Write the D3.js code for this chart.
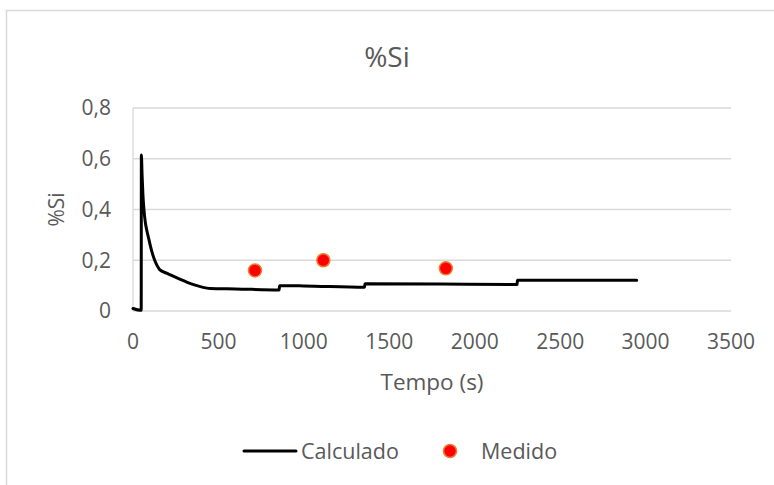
<!DOCTYPE html>
<html>
<head>
<meta charset="utf-8">
<script src="https://cdn.jsdelivr.net/npm/d3@7"></script>
<style>
  html, body { margin: 0; padding: 0; background: #fff; }
  svg { display: block; font-family: "Open Sans", "Liberation Sans", sans-serif; }
</style>
</head>
<body>
<svg id="chart" width="774" height="485"></svg>
<script>
// Calculated %Si over time (s)
const calcTime = [0, 45, 48, 49, 53, 58, 64, 72, 80, 92, 110, 127, 142, 156, 200, 263, 350, 450, 600, 855, 858, 1000, 1355, 1358, 1800, 2248, 2250, 2948];
const calcSi   = [0.010, 0.003, 0.003, 0.615, 0.54, 0.46, 0.40, 0.35, 0.32, 0.285, 0.235, 0.20, 0.178, 0.163, 0.148, 0.129, 0.105, 0.089, 0.087, 0.083, 0.100, 0.099, 0.094, 0.107, 0.106, 0.104, 0.121, 0.121];

// Measured %Si samples
const measTime = [714, 1114, 1831];
const measSi   = [0.160, 0.200, 0.168];

const xTicks = [0, 500, 1000, 1500, 2000, 2500, 3000, 3500];
const yTicks = [0, 0.2, 0.4, 0.6, 0.8];

const textColor = "#595959";
const gridColor = "#D9D9D9";

const svg = d3.select("#chart");

// chart frame
svg.append("rect")
  .attr("x", 6.5).attr("y", 10.5)
  .attr("width", 800).attr("height", 500)
  .attr("fill", "#fff")
  .attr("stroke", gridColor).attr("stroke-width", 1.5);

const x = d3.scaleLinear().domain([0, 3500]).range([133, 731]);
const y = d3.scaleLinear().domain([0, 0.8]).range([311, 108]);

const fmt = d => d === 0 ? "0" : d3.format(".1f")(d).replace(".", ",");

// horizontal gridlines
svg.append("g")
  .selectAll("line")
  .data(yTicks)
  .join("line")
  .attr("x1", x(0)).attr("x2", x(3500))
  .attr("y1", d => y(d)).attr("y2", d => y(d))
  .attr("stroke", gridColor).attr("stroke-width", 1.3);

// vertical axis line
svg.append("line")
  .attr("x1", x(0)).attr("x2", x(0))
  .attr("y1", y(0)).attr("y2", y(0.8))
  .attr("stroke", gridColor).attr("stroke-width", 1.3);

// y tick labels
svg.append("g")
  .selectAll("text")
  .data(yTicks)
  .join("text")
  .attr("x", 111)
  .attr("y", d => y(d))
  .attr("dy", "0.35em")
  .attr("text-anchor", "end")
  .attr("fill", textColor)
  .attr("font-size", 21)
  .text(fmt);

// x tick labels
svg.append("g")
  .selectAll("text")
  .data(xTicks)
  .join("text")
  .attr("x", d => x(d))
  .attr("y", 342)
  .attr("dy", "0.35em")
  .attr("text-anchor", "middle")
  .attr("fill", textColor)
  .attr("font-size", 21)
  .text(d => d);

// titles
svg.append("text")
  .attr("x", 387).attr("y", 57)
  .attr("dy", "0.35em")
  .attr("text-anchor", "middle")
  .attr("fill", textColor)
  .attr("font-size", 28)
  .text("%Si");

svg.append("text")
  .attr("x", x(1750)).attr("y", 382)
  .attr("dy", "0.35em")
  .attr("text-anchor", "middle")
  .attr("fill", textColor)
  .attr("font-size", 22.5)
  .text("Tempo (s)");

svg.append("text")
  .attr("transform", `translate(57,${y(0.4)}) rotate(-90)`)
  .attr("dy", "0.35em")
  .attr("text-anchor", "middle")
  .attr("fill", textColor)
  .attr("font-size", 21)
  .text("%Si");

// calculated curve
const line = d3.line()
  .x((d, i) => x(calcTime[i]))
  .y(d => y(d))
  .curve(d3.curveMonotoneX);

svg.append("path")
  .datum(calcSi)
  .attr("d", line)
  .attr("fill", "none")
  .attr("stroke", "#000")
  .attr("stroke-width", 3)
  .attr("stroke-linejoin", "round")
  .attr("stroke-linecap", "round");

// measured points
svg.append("g")
  .selectAll("circle")
  .data(measSi)
  .join("circle")
  .attr("cx", (d, i) => x(measTime[i]))
  .attr("cy", d => y(d))
  .attr("r", 6.5)
  .attr("fill", "#FF0000")
  .attr("stroke", "#ED7D31")
  .attr("stroke-width", 1.5);

// legend
const lg = svg.append("g");
lg.append("line")
  .attr("x1", 244).attr("x2", 296)
  .attr("y1", 451).attr("y2", 451)
  .attr("stroke", "#000").attr("stroke-width", 3)
  .attr("stroke-linecap", "round");
lg.append("text")
  .attr("x", 301).attr("y", 451)
  .attr("dy", "0.35em")
  .attr("fill", textColor)
  .attr("font-size", 21.5)
  .text("Calculado");
lg.append("circle")
  .attr("cx", 450).attr("cy", 451)
  .attr("r", 6.5)
  .attr("fill", "#FF0000")
  .attr("stroke", "#ED7D31")
  .attr("stroke-width", 1.5);
lg.append("text")
  .attr("x", 481).attr("y", 451)
  .attr("dy", "0.35em")
  .attr("fill", textColor)
  .attr("font-size", 21.5)
  .text("Medido");
</script>
</body>
</html>
